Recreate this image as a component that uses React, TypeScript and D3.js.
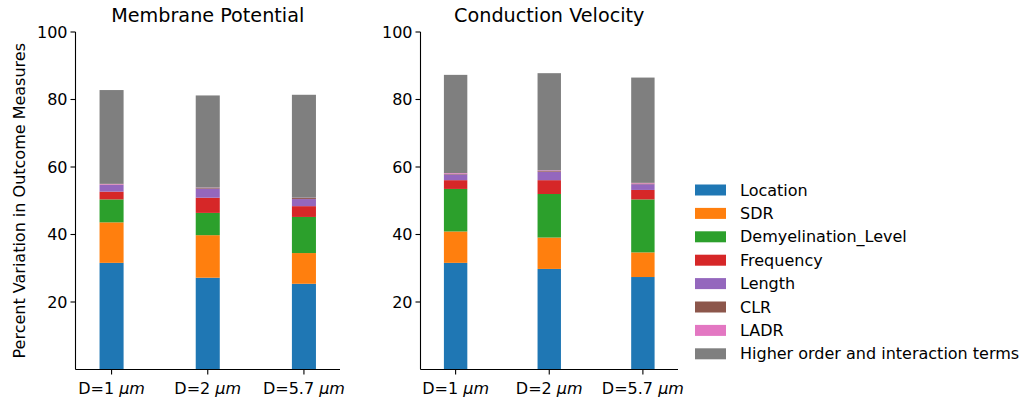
import React from "react";
import * as d3 from "d3";

const CATEGORIES = ["D=1", "D=2", "D=5.7"];
const FACTORS = [
  "Location",
  "SDR",
  "Demyelination_Level",
  "Frequency",
  "Length",
  "CLR",
  "LADR",
  "Higher order and interaction terms",
];
const COLORS = [
  "#1f77b4",
  "#ff7f0e",
  "#2ca02c",
  "#d62728",
  "#9467bd",
  "#8c564b",
  "#e377c2",
  "#7f7f7f",
];

// one row per factor, one value per diameter
const MP_VALUES = [
  [31.6, 27.2, 25.4],
  [12.0, 12.6, 9.1],
  [6.8, 6.6, 10.7],
  [2.3, 4.5, 3.2],
  [2.0, 2.7, 2.1],
  [0.1, 0.2, 0.3],
  [0.2, 0.1, 0.1],
  [27.8, 27.3, 30.5],
];
const CV_VALUES = [
  [31.6, 29.8, 27.4],
  [9.3, 9.3, 7.3],
  [12.6, 12.9, 15.7],
  [2.6, 4.1, 2.8],
  [1.7, 2.5, 1.7],
  [0.2, 0.2, 0.2],
  [0.2, 0.2, 0.2],
  [29.1, 28.8, 31.2],
];
const Y_TICKS = [20, 40, 60, 80, 100];

const FONT = "DejaVu Sans, sans-serif";
const TOP = 32;
const BOTTOM = 369.5;

function Panel({ title, values, x0, x1 }: { title: string; values: number[][]; x0: number; x1: number }) {
  const y = d3.scaleLinear().domain([0, 100]).range([BOTTOM, TOP]);
  const x = d3.scaleLinear().domain([-0.375, 2.375]).range([x0, x1]);
  const barW = (x(1) - x(0)) * 0.25;
  const stacked = CATEGORIES.map((_, ci) => {
    let acc = 0;
    return values.map((row) => {
      const s = acc;
      acc += row[ci];
      return [s, acc];
    });
  });
  return (
    <g>
      <text x={(x0 + x1) / 2} y={22} textAnchor="middle" fontSize={19.2} fontFamily={FONT} fill="#000">
        {title}
      </text>
      {stacked.map((segs, ci) =>
        segs.map(([s, e], fi) => (
          <rect
            key={`${ci}-${fi}`}
            x={x(ci) - barW / 2}
            y={y(e)}
            width={barW}
            height={y(s) - y(e)}
            fill={COLORS[fi]}
          />
        ))
      )}
      <line x1={x0} x2={x0} y1={TOP} y2={BOTTOM} stroke="#000" strokeWidth={1.1} />
      <line x1={x0} x2={x1} y1={BOTTOM} y2={BOTTOM} stroke="#000" strokeWidth={1.1} />
      {Y_TICKS.map((t) => (
        <g key={t}>
          <line x1={x0 - 5} x2={x0} y1={y(t)} y2={y(t)} stroke="#000" strokeWidth={1.1} />
          <text x={x0 - 8} y={y(t)} dy="0.35em" textAnchor="end" fontSize={16} fontFamily={FONT} fill="#000">
            {t}
          </text>
        </g>
      ))}
      {CATEGORIES.map((c, ci) => (
        <g key={c}>
          <line x1={x(ci)} x2={x(ci)} y1={BOTTOM} y2={BOTTOM + 5} stroke="#000" strokeWidth={1.1} />
          <text x={x(ci)} y={BOTTOM + 24} textAnchor="middle" fontSize={16} fontFamily={FONT} fill="#000">
            {c + " "}
            <tspan fontStyle="italic">μm</tspan>
          </text>
        </g>
      ))}
    </g>
  );
}

export default function App() {
  return (
    <svg
      width={1021}
      height={402}
      style={{ position: "absolute", left: 0, top: 0, background: "#fff" }}
    >
      <text
        transform={`translate(25,${(TOP + BOTTOM) / 2}) rotate(-90)`}
        textAnchor="middle"
        fontSize={16}
        fontFamily={FONT}
        fill="#000"
      >
        Percent Variation in Outcome Measures
      </text>
      <Panel title="Membrane Potential" values={MP_VALUES} x0={75.5} x1={340} />
      <Panel title="Conduction Velocity" values={CV_VALUES} x0={420.5} x1={678} />
      {FACTORS.map((f, i) => (
        <g key={f} transform={`translate(695,${190 + i * 23.4})`}>
          <rect x={0} y={-5.5} width={31} height={11} fill={COLORS[i]} />
          <text x={45} y={0} dy="0.35em" fontSize={16} fontFamily={FONT} fill="#000">
            {f}
          </text>
        </g>
      ))}
    </svg>
  );
}
